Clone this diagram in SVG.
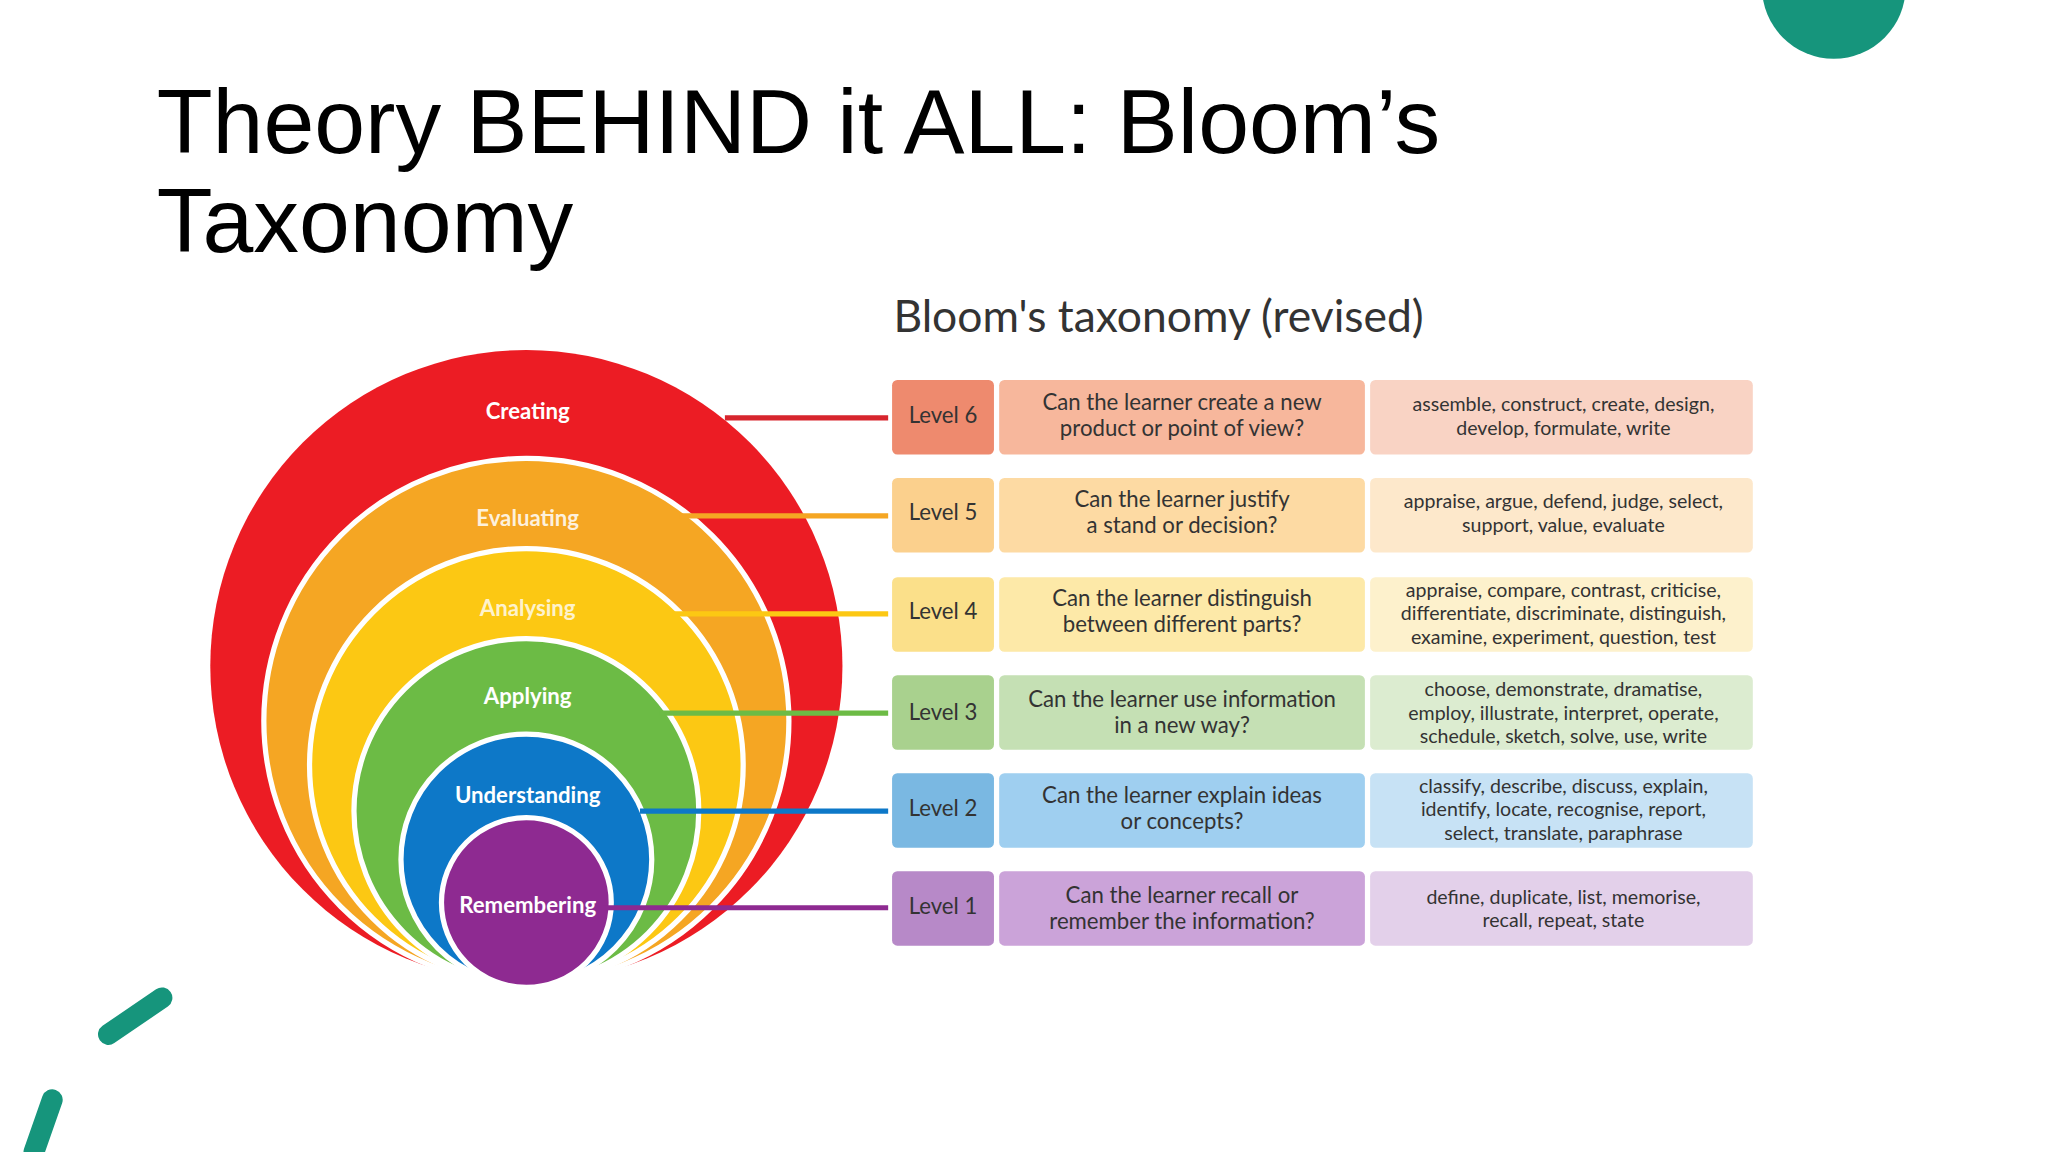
<svg xmlns="http://www.w3.org/2000/svg" width="2048" height="1152" viewBox="0 0 2048 1152">
<style>
.t{font-family:"Liberation Sans",Arial,sans-serif;fill:#000}
.lbl{font-family:Lato,"Open Sans",sans-serif;font-size:17px;fill:#fff;font-weight:bold;text-anchor:middle}
.c{font-family:Lato,"Open Sans",sans-serif;font-size:17px;fill:#333;text-anchor:middle}
.v{font-family:Lato,"Open Sans",sans-serif;font-size:15px;fill:#333;text-anchor:middle}
.ring{stroke:#fff;stroke-width:4}
.dash{stroke:#16957c;stroke-width:16;stroke-linecap:round;fill:none}
</style>
<rect width="2048" height="1152" fill="#fff"/>
<g transform="scale(1.30612)">
<circle cx="1404" cy="-10" r="55" fill="#16957c"/>
<line class="dash" x1="83" y1="792" x2="124" y2="764"/>
<line class="dash" x1="40" y1="842" x2="26" y2="882"/>
<text class="t" x="120" y="117" font-size="70">Theory BEHIND it ALL: Bloom’s</text>
<text class="t" x="120" y="193" font-size="70">Taxonomy</text>
<text x="684" y="254" font-family="Lato,'Open Sans',sans-serif" font-size="34" fill="#333">Bloom's taxonomy (revised)</text>
<g id="circles">
<circle cx="403" cy="510" r="242" fill="#ec1c24"/>
<circle class="ring" cx="403" cy="552" r="201" fill="#f5a623"/>
<circle class="ring" cx="403" cy="586" r="166" fill="#fcc813"/>
<circle class="ring" cx="403" cy="621" r="132" fill="#6cbb45"/>
<circle class="ring" cx="403" cy="658" r="96" fill="#0d78c8"/>
<circle class="ring" cx="403" cy="691" r="65" fill="#8e2a91"/>
</g>
<g id="connectors" stroke-width="4">
<line x1="555" y1="320" x2="680" y2="320" stroke="#d7252d"/>
<line x1="520" y1="395" x2="680" y2="395" stroke="#f5a623"/>
<line x1="515" y1="470" x2="680" y2="470" stroke="#fcc813"/>
<line x1="505" y1="546" x2="680" y2="546" stroke="#6cbb45"/>
<line x1="490" y1="621" x2="680" y2="621" stroke="#0d78c8"/>
<line x1="462" y1="695" x2="680" y2="695" stroke="#8e2a91"/>
</g>
<g id="labels">
<text class="lbl" x="404" y="321">Creating</text>
<text class="lbl" x="404" y="403" fill-opacity="0.85">Evaluating</text>
<text class="lbl" x="404" y="472" fill-opacity="0.8">Analysing</text>
<text class="lbl" x="404" y="539">Applying</text>
<text class="lbl" x="404" y="615">Understanding</text>
<text class="lbl" x="404" y="699">Remembering</text>
</g>
<g id="level6"><rect x="683" y="291" width="78" height="57" rx="4" fill="#ee8a6e"/><rect x="765" y="291" width="280" height="57" rx="4" fill="#f7b79c"/><rect x="1049" y="291" width="293" height="57" rx="4" fill="#f9d3c4"/>
<text class="c" x="722" y="324">Level 6</text><text class="c" x="905" y="314">Can the learner create a new</text><text class="c" x="905" y="334">product or point of view?</text>
<text class="v" x="1197" y="315">assemble, construct, create, design,</text><text class="v" x="1197" y="333">develop, formulate, write</text></g>
<g id="level5"><rect x="683" y="366" width="78" height="57" rx="4" fill="#fbd08d"/><rect x="765" y="366" width="280" height="57" rx="4" fill="#fddaa3"/><rect x="1049" y="366" width="293" height="57" rx="4" fill="#fde8cb"/>
<text class="c" x="722" y="398">Level 5</text><text class="c" x="905" y="388">Can the learner justify</text><text class="c" x="905" y="408">a stand or decision?</text>
<text class="v" x="1197" y="389">appraise, argue, defend, judge, select,</text><text class="v" x="1197" y="407">support, value, evaluate</text></g>
<g id="level4"><rect x="683" y="442" width="78" height="57" rx="4" fill="#fbe08a"/><rect x="765" y="442" width="280" height="57" rx="4" fill="#fde9a8"/><rect x="1049" y="442" width="293" height="57" rx="4" fill="#fdf1cc"/>
<text class="c" x="722" y="474">Level 4</text><text class="c" x="905" y="464">Can the learner distinguish</text><text class="c" x="905" y="484">between different parts?</text>
<text class="v" x="1197" y="457">appraise, compare, contrast, criticise,</text><text class="v" x="1197" y="475">differentiate, discriminate, distinguish,</text><text class="v" x="1197" y="493">examine, experiment, question, test</text></g>
<g id="level3"><rect x="683" y="517" width="78" height="57" rx="4" fill="#a9d18e"/><rect x="765" y="517" width="280" height="57" rx="4" fill="#c5e0b4"/><rect x="1049" y="517" width="293" height="57" rx="4" fill="#dcecd0"/>
<text class="c" x="722" y="551">Level 3</text><text class="c" x="905" y="541">Can the learner use information</text><text class="c" x="905" y="561">in a new way?</text>
<text class="v" x="1197" y="533">choose, demonstrate, dramatise,</text><text class="v" x="1197" y="551">employ, illustrate, interpret, operate,</text><text class="v" x="1197" y="569">schedule, sketch, solve, use, write</text></g>
<g id="level2"><rect x="683" y="592" width="78" height="57" rx="4" fill="#7ab8e2"/><rect x="765" y="592" width="280" height="57" rx="4" fill="#9fcff0"/><rect x="1049" y="592" width="293" height="57" rx="4" fill="#c7e2f5"/>
<text class="c" x="722" y="625">Level 2</text><text class="c" x="905" y="615">Can the learner explain ideas</text><text class="c" x="905" y="635">or concepts?</text>
<text class="v" x="1197" y="607">classify, describe, discuss, explain,</text><text class="v" x="1197" y="625">identify, locate, recognise, report,</text><text class="v" x="1197" y="643">select, translate, paraphrase</text></g>
<g id="level1"><rect x="683" y="667" width="78" height="57" rx="4" fill="#b789c8"/><rect x="765" y="667" width="280" height="57" rx="4" fill="#cba3d9"/><rect x="1049" y="667" width="293" height="57" rx="4" fill="#e3d0ea"/>
<text class="c" x="722" y="700">Level 1</text><text class="c" x="905" y="691">Can the learner recall or</text><text class="c" x="905" y="711">remember the information?</text>
<text class="v" x="1197" y="692">define, duplicate, list, memorise,</text><text class="v" x="1197" y="710">recall, repeat, state</text></g>
</g>
</svg>
